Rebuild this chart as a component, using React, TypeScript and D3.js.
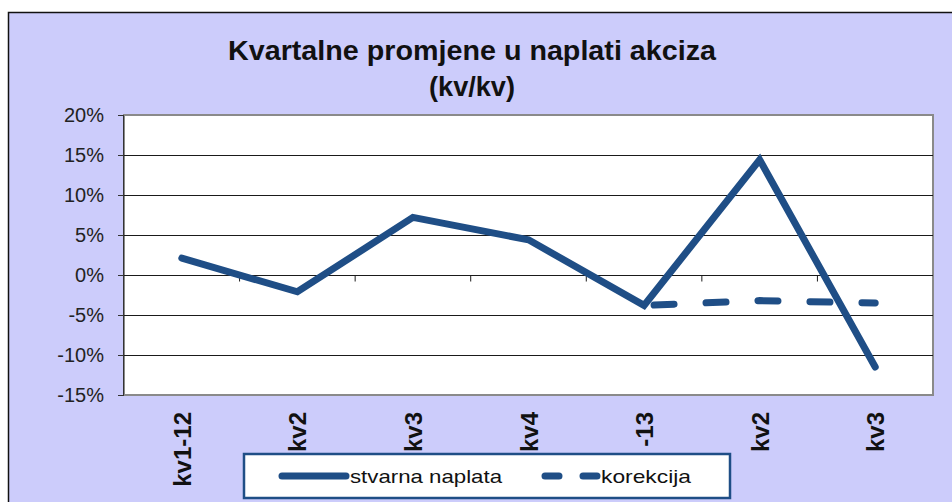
import React, { useRef, useEffect } from "react";
import * as d3 from "d3";

const categories = ["kv1-12", "kv2", "kv3", "kv4", "-13", "kv2", "kv3"];
const stvarna = [2.1, -2.1, 7.2, 4.4, -3.8, 14.4, -11.5];
const korekcija: (number | null)[] = [null, null, null, null, -3.8, -3.2, -3.5];
const yTicks = [20, 15, 10, 5, 0, -5, -10, -15];

const W = 952;
const H = 502;
const PLOT = { left: 124, right: 933, top: 115, bottom: 395 };
const BLUE = "#1f4e86";
const FONT = "'Liberation Sans', Arial, sans-serif";

export default function App() {
  const ref = useRef<SVGSVGElement>(null);

  useEffect(() => {
    const svg = d3.select(ref.current);
    svg.selectAll("*").remove();

    // chart background + frame
    svg
      .append("rect")
      .attr("x", 8.5)
      .attr("y", 12.5)
      .attr("width", W + 20)
      .attr("height", H + 20)
      .attr("fill", "#ccccfb")
      .attr("stroke", "#111")
      .attr("stroke-width", 1.5);

    const x = d3
      .scaleBand<number>()
      .domain(d3.range(categories.length))
      .range([PLOT.left, PLOT.right]);
    const cx = (i: number) => (x(i) as number) + x.bandwidth() / 2;
    const y = d3.scaleLinear().domain([-15, 20]).range([PLOT.bottom, PLOT.top]);

    // plot area
    svg
      .append("rect")
      .attr("x", PLOT.left)
      .attr("y", PLOT.top)
      .attr("width", PLOT.right - PLOT.left)
      .attr("height", PLOT.bottom - PLOT.top)
      .attr("fill", "#ffffff")
      .attr("stroke", "#8a8a8a")
      .attr("stroke-width", 2);

    // gridlines
    svg
      .append("g")
      .selectAll("line")
      .data(yTicks.filter((t) => t !== 20 && t !== -15))
      .join("line")
      .attr("x1", PLOT.left)
      .attr("x2", PLOT.right)
      .attr("y1", (d) => Math.round(y(d)) + 0.5)
      .attr("y2", (d) => Math.round(y(d)) + 0.5)
      .attr("stroke", "#1a1a1a")
      .attr("stroke-width", 1);

    // y axis
    svg
      .append("line")
      .attr("x1", PLOT.left - 0.5)
      .attr("x2", PLOT.left - 0.5)
      .attr("y1", PLOT.top)
      .attr("y2", PLOT.bottom)
      .attr("stroke", "#333");
    svg
      .append("g")
      .selectAll("line")
      .data(yTicks)
      .join("line")
      .attr("x1", PLOT.left - 6)
      .attr("x2", PLOT.left)
      .attr("y1", (d) => Math.round(y(d)) + 0.5)
      .attr("y2", (d) => Math.round(y(d)) + 0.5)
      .attr("stroke", "#333");
    svg
      .append("g")
      .selectAll("text")
      .data(yTicks)
      .join("text")
      .attr("x", 104)
      .attr("y", (d) => y(d) + 7)
      .attr("text-anchor", "end")
      .attr("font-family", FONT)
      .attr("font-size", 20)
      .attr("fill", "#222")
      .text((d) => `${d}%`);

    // category axis at 0 with ticks between categories
    const y0 = Math.round(y(0)) + 0.5;
    svg
      .append("g")
      .selectAll("line")
      .data(d3.range(1, categories.length))
      .join("line")
      .attr("x1", (i) => x(i) as number)
      .attr("x2", (i) => x(i) as number)
      .attr("y1", y0)
      .attr("y2", y0 + 6)
      .attr("stroke", "#1a1a1a");

    // category labels (rotated)
    svg
      .append("g")
      .selectAll("text")
      .data(categories)
      .join("text")
      .attr("transform", (d, i) => `translate(${cx(i) + 9},${PLOT.bottom + 17}) rotate(-90)`)
      .attr("text-anchor", "end")
      .attr("font-family", FONT)
      .attr("font-weight", "bold")
      .attr("font-size", 24)
      .attr("fill", "#111")
      .text((d) => d);

    // lines
    const lineGen = d3
      .line<number | null>()
      .defined((d) => d !== null)
      .x((d, i) => cx(i))
      .y((d) => y(d as number));

    svg
      .append("path")
      .datum(korekcija)
      .attr("fill", "none")
      .attr("stroke", BLUE)
      .attr("stroke-width", 7)
      .attr("stroke-linecap", "round")
      .attr("stroke-dasharray", "20 32")
      .attr("stroke-dashoffset", -10)
      .attr("d", lineGen);

    svg
      .append("path")
      .datum(stvarna)
      .attr("fill", "none")
      .attr("stroke", BLUE)
      .attr("stroke-width", 7)
      .attr("stroke-linecap", "round")
      .attr("stroke-linejoin", "miter")
      .attr("d", lineGen);

    // title
    const title = svg
      .append("text")
      .attr("text-anchor", "middle")
      .attr("font-family", FONT)
      .attr("font-weight", "bold")
      .attr("font-size", 27)
      .attr("fill", "#111");
    title
      .append("tspan")
      .attr("x", 472)
      .attr("y", 60)
      .attr("textLength", 488)
      .attr("lengthAdjust", "spacingAndGlyphs")
      .text("Kvartalne promjene u naplati akciza");
    title
      .append("tspan")
      .attr("x", 472)
      .attr("y", 96)
      .attr("textLength", 86)
      .attr("lengthAdjust", "spacingAndGlyphs")
      .text("(kv/kv)");

    // legend
    const lg = svg.append("g");
    lg.append("rect")
      .attr("x", 244)
      .attr("y", 454)
      .attr("width", 486)
      .attr("height", 44)
      .attr("fill", "#fff")
      .attr("stroke", BLUE)
      .attr("stroke-width", 2.5);
    lg.append("line")
      .attr("x1", 282)
      .attr("x2", 346)
      .attr("y1", 476)
      .attr("y2", 476)
      .attr("stroke", BLUE)
      .attr("stroke-width", 7)
      .attr("stroke-linecap", "round");
    lg.append("text")
      .attr("x", 350)
      .attr("y", 483)
      .attr("font-family", FONT)
      .attr("font-size", 19)
      .attr("textLength", 152)
      .attr("lengthAdjust", "spacingAndGlyphs")
      .attr("fill", "#111")
      .text("stvarna naplata");
    lg.append("line")
      .attr("x1", 545)
      .attr("x2", 600)
      .attr("y1", 476)
      .attr("y2", 476)
      .attr("stroke", BLUE)
      .attr("stroke-width", 7)
      .attr("stroke-linecap", "round")
      .attr("stroke-dasharray", "14 24");
    lg.append("text")
      .attr("x", 601)
      .attr("y", 483)
      .attr("font-family", FONT)
      .attr("font-size", 19)
      .attr("textLength", 90)
      .attr("lengthAdjust", "spacingAndGlyphs")
      .attr("fill", "#111")
      .text("korekcija");
  }, []);

  return (
    <svg
      ref={ref}
      width={W}
      height={H}
      style={{ position: "absolute", left: 0, top: 0 }}
    />
  );
}
